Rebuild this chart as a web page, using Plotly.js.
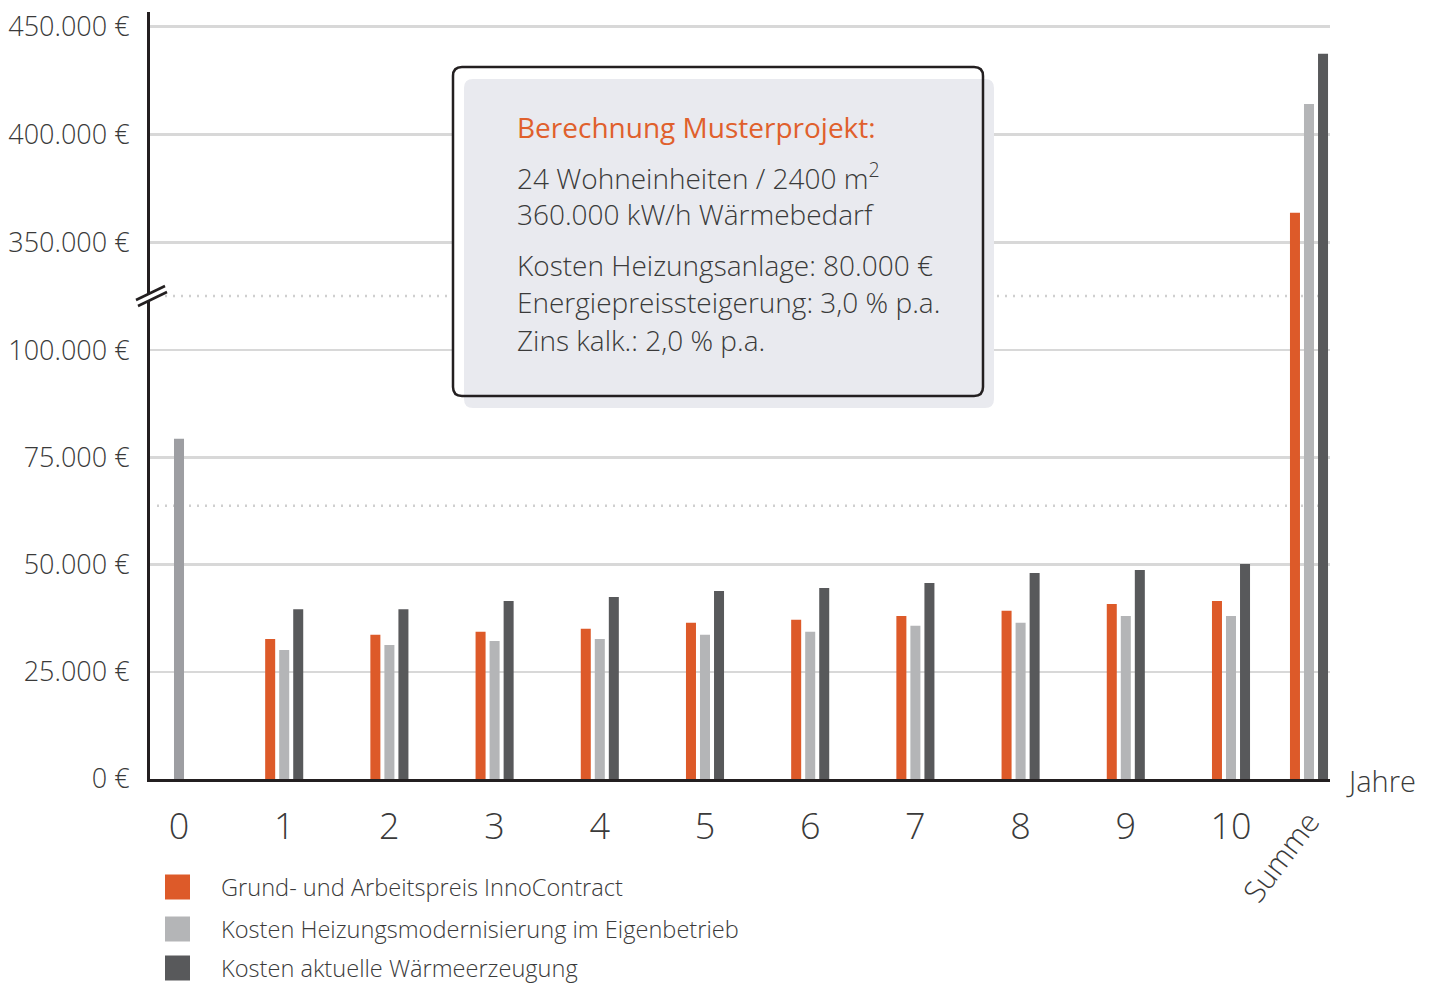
<!DOCTYPE html>
<html>
<head>
<meta charset="utf-8">
<script src="https://cdn.plot.ly/plotly-3.0.1.min.js"></script>
<style>html,body{margin:0;padding:0;background:#fff;}#chart{width:1432px;height:983px;}</style>
</head>
<body>
<div id="chart"></div>
<script>
// ---- data ----
const years = ['0','1','2','3','4','5','6','7','8','9','10'];
const sumCategory = ['Summe'];
const seriesNames = ['Grund- und Arbeitspreis InnoContract', 'Kosten Heizungsmodernisierung im Eigenbetrieb', 'Kosten aktuelle Wärmeerzeugung'];
const innoContract = [null, 32650, 33600, 34300, 35000, 36400, 37100, 38000, 39200, 40800, 41500];
const eigenbetrieb = [79300, 30100, 31250, 32200, 32650, 33600, 34300, 35700, 36400, 38000, 38000];
const aktuell = [null, 39600, 39600, 41500, 42400, 43800, 44500, 45700, 48000, 48700, 50100];
const sumInno = [363800];
const sumEigen = [414200];
const sumAktuell = [437500];
const xLabel = 'Jahre';
const boxTitle = 'Berechnung Musterprojekt:';
const boxLines = ['24 Wohneinheiten / 2400 m<sup>2</sup>', '360.000 kW/h Wärmebedarf', 'Kosten Heizungsanlage: 80.000 €', 'Energiepreissteigerung: 3,0 % p.a.', 'Zins kalk.: 2,0 % p.a.'];

// ---- styles / geometry ----
const W = 1432, H = 983, L = 150, R = 1330, T = 12, B = 779;
const px = p => (p - L) / (R - L);
const py = p => (B - p) / (B - T);
const colors = ['#dd5a29', '#b4b5b7', '#58595b'];
const year0Color = '#9d9ea2';
const textColor = '#3a3a3a';
const FONT = 'Open Sans, sans-serif';
const breakY = 296;

const yearSeries = [innoContract, eigenbetrieb, aktuell];
const sumSeries = [sumInno, sumEigen, sumAktuell];

const traces = [];
['y', 'y2'].forEach(ya => {
  yearSeries.forEach((vals, i) => {
    traces.push({
      type: 'bar', x: years, y: vals, name: seriesNames[i], xaxis: 'x', yaxis: ya,
      marker: {color: i === 1 ? years.map((c, k) => k === 0 ? year0Color : colors[1]) : colors[i], line: {width: 0}},
      showlegend: false, hoverinfo: 'skip'
    });
  });
  sumSeries.forEach((vals, i) => {
    traces.push({
      type: 'bar', x: sumCategory, y: vals, name: seriesNames[i], xaxis: 'x2', yaxis: ya,
      marker: {color: colors[i], line: {width: 0}},
      showlegend: false, hoverinfo: 'skip'
    });
  });
});

const unit = 105.2;
const yAxisCommon = {
  showgrid: true, gridcolor: '#d8d8d8', gridwidth: 2.5,
  showline: true, linecolor: '#231f20', linewidth: 3,
  ticks: '', zeroline: false, tickformat: ',d', ticksuffix: ' €',
  tickfont: {family: FONT, size: 27, color: textColor, weight: 300},
  ticklabelstandoff: 12, tick0: 0, fixedrange: true
};

function rr(x0, y0, x1, y1, r) {
  const X = v => px(v).toFixed(5), Y = v => py(v).toFixed(5);
  return `M${X(x0 + r)},${Y(y0)} L${X(x1 - r)},${Y(y0)} Q${X(x1)},${Y(y0)} ${X(x1)},${Y(y0 + r)} ` +
    `L${X(x1)},${Y(y1 - r)} Q${X(x1)},${Y(y1)} ${X(x1 - r)},${Y(y1)} L${X(x0 + r)},${Y(y1)} ` +
    `Q${X(x0)},${Y(y1)} ${X(x0)},${Y(y1 - r)} L${X(x0)},${Y(y0 + r)} Q${X(x0)},${Y(y0)} ${X(x0 + r)},${Y(y0)} Z`;
}

const shapes = [
  // dotted break guide lines
  {type: 'line', xref: 'paper', yref: 'paper', x0: px(165), x1: 1, y0: py(breakY), y1: py(breakY),
   line: {color: '#cfcfcf', width: 2.5, dash: '2px,6px'}, layer: 'between'},
  {type: 'line', xref: 'paper', yref: 'paper', x0: px(157), x1: 1, y0: py(505.7), y1: py(505.7),
   line: {color: '#cfcfcf', width: 2.5, dash: '2px,6px'}, layer: 'between'},
  // info box
  {type: 'path', xref: 'paper', yref: 'paper', path: rr(453, 67, 983, 396, 9), fillcolor: '#ffffff', line: {width: 0}, layer: 'above'},
  {type: 'path', xref: 'paper', yref: 'paper', path: rr(464, 79, 994, 408, 9), fillcolor: '#e9eaef', line: {width: 0}, layer: 'above'},
  {type: 'path', xref: 'paper', yref: 'paper', path: rr(453, 67, 983, 396, 9), fillcolor: 'rgba(0,0,0,0)', line: {color: '#231f20', width: 2.5}, layer: 'above'},
  // axis break mark
  {type: 'line', xref: 'paper', yref: 'paper', x0: px(137), y0: py(303), x1: px(166), y1: py(289), line: {color: '#ffffff', width: 5}, layer: 'above'},
  {type: 'line', xref: 'paper', yref: 'paper', x0: px(136), y0: py(300), x1: px(165), y1: py(286), line: {color: '#231f20', width: 2.5}, layer: 'above'},
  {type: 'line', xref: 'paper', yref: 'paper', x0: px(138), y0: py(306), x1: px(167), y1: py(292), line: {color: '#231f20', width: 2.5}, layer: 'above'}
];

// legend squares
const legendY = [887, 929, 968];
legendY.forEach((yc, i) => {
  shapes.push({type: 'rect', xref: 'paper', yref: 'paper', x0: px(165), x1: px(190), y0: py(yc - 12.5), y1: py(yc + 12.5),
    fillcolor: colors[i], line: {width: 0}, layer: 'above'});
});

const annotations = [];
seriesNames.forEach((n, i) => {
  annotations.push({xref: 'paper', yref: 'paper', x: px(219), y: py(legendY[i]), xanchor: 'left', yanchor: 'middle',
    text: n, showarrow: false, font: {family: FONT, size: 23.6, color: textColor, weight: 300}});
});
annotations.push({xref: 'paper', yref: 'paper', x: px(1344), y: py(780), xanchor: 'left', yanchor: 'middle',
  text: xLabel, showarrow: false, font: {family: FONT, size: 29, color: textColor, weight: 300}});
annotations.push({xref: 'paper', yref: 'paper', x: px(515), y: py(127), xanchor: 'left', yanchor: 'middle',
  text: boxTitle, showarrow: false, font: {family: FONT, size: 28, color: '#e0602c', weight: 400}});
const lineY = [177, 214, 265, 302, 340];
boxLines.forEach((t, i) => {
  annotations.push({xref: 'paper', yref: 'paper', x: px(515), y: py(lineY[i]), xanchor: 'left', yanchor: 'middle',
    text: t, showarrow: false, font: {family: FONT, size: 28, color: textColor, weight: 300}});
});

const layout = {
  width: W, height: H,
  margin: {l: L, r: W - R, t: T, b: H - B, pad: 0},
  paper_bgcolor: '#ffffff', plot_bgcolor: '#ffffff',
  separators: ',.',
  font: {family: FONT, color: textColor, weight: 300},
  barmode: 'group', bargap: 0.6, bargroupgap: 0.286,
  showlegend: false,
  xaxis: {
    type: 'category', domain: [0, 1], anchor: 'y',
    range: [-(179 - L) / unit, (R - 179) / unit],
    showline: true, linecolor: '#231f20', linewidth: 3, showgrid: false, zeroline: false, ticks: '',
    tickfont: {family: FONT, size: 36, color: textColor, weight: 300}, ticklabelstandoff: 14, fixedrange: true
  },
  xaxis2: {
    type: 'category', overlaying: 'x', anchor: 'y', side: 'bottom',
    range: [-(1309 - L) / unit, (R - 1309) / unit],
    showline: false, showgrid: false, zeroline: false, ticks: '', tickangle: -53,
    tickfont: {family: FONT, size: 30, color: textColor, weight: 300}, ticklabelstandoff: 18, fixedrange: true
  },
  yaxis: Object.assign({}, yAxisCommon, {domain: [0, py(breakY)], range: [0, 112600], dtick: 25000, anchor: 'x'}),
  yaxis2: Object.assign({}, yAxisCommon, {domain: [py(breakY), 1], range: [325300, 456800], dtick: 50000, anchor: 'x'}),
  shapes: shapes,
  annotations: annotations
};

Plotly.newPlot('chart', traces, layout, {displayModeBar: false, staticPlot: true});
</script>
</body>
</html>
